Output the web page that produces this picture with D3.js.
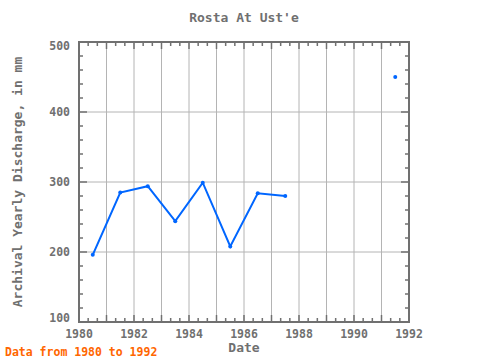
<!DOCTYPE html>
<html><head><meta charset="utf-8">
<script src="https://cdn.jsdelivr.net/npm/d3@7"></script>
<style>body{margin:0;background:#fff}</style>
</head><body>
<script>
const years = [1980.5, 1981.5, 1982.5, 1983.5, 1984.5, 1985.5, 1986.5, 1987.5, 1991.5];
const values = [196, 285, 294, 244, 299, 208, 284, 280, 450];
const xTickLabels = [1980, 1982, 1984, 1986, 1988, 1990, 1992];
const yTickLabels = [100, 200, 300, 400, 500];

const W = 480, H = 360;
const m = {l: 79, r: 71, t: 42, b: 38};
const svg = d3.select("body").append("svg").attr("width", W).attr("height", H);
const x = d3.scaleLinear().domain([1980, 1992]).range([m.l, W - m.r]);
const y = d3.scaleLinear().domain([100, 500]).range([H - m.b, m.t]);
const font = "'DejaVu Sans Mono', monospace";
const grey = "#707070";

// grid
svg.append("g").selectAll("line").data(d3.range(1981, 1992)).join("line")
  .attr("x1", d => x(d)).attr("x2", d => x(d)).attr("y1", m.t).attr("y2", H - m.b)
  .attr("stroke", "#b4b4b4").attr("stroke-width", 1);
svg.append("g").selectAll("line").data([200, 300, 400]).join("line")
  .attr("y1", d => y(d)).attr("y2", d => y(d)).attr("x1", m.l).attr("x2", W - m.r)
  .attr("stroke", "#b4b4b4").attr("stroke-width", 1);

// ticks
const xMinor = d3.range(1980, 1992.001, 1/3);
const tk = svg.append("g").attr("stroke", grey).attr("stroke-width", 1.5);
xMinor.forEach(v => {
  const major = Math.abs(v - Math.round(v)) < 1e-6;
  const len = major ? 7 : 4;
  tk.append("line").attr("x1", x(v)).attr("x2", x(v)).attr("y1", y(100)).attr("y2", y(100) - len);
  tk.append("line").attr("x1", x(v)).attr("x2", x(v)).attr("y1", y(500)).attr("y2", y(500) + len);
});
d3.range(100, 500.001, 20).forEach(v => {
  const major = v % 100 === 0;
  const len = major ? 8 : 4;
  tk.append("line").attr("y1", y(v)).attr("y2", y(v)).attr("x1", x(1980)).attr("x2", x(1980) + len);
  tk.append("line").attr("y1", y(v)).attr("y2", y(v)).attr("x1", x(1992)).attr("x2", x(1992) - len);
});

// frame
svg.append("rect").attr("x", m.l).attr("y", m.t).attr("width", W - m.l - m.r).attr("height", H - m.t - m.b)
  .attr("fill", "none").attr("stroke", grey).attr("stroke-width", 2);

// tick labels
svg.append("g").selectAll("text").data(xTickLabels).join("text")
  .attr("x", d => x(d)).attr("y", H - m.b + 16).attr("text-anchor", "middle")
  .attr("font-family", font).attr("font-size", 11.5).attr("font-weight", "bold").attr("fill", grey)
  .text(d => d);
svg.append("g").selectAll("text").data(yTickLabels).join("text")
  .attr("x", m.l - 9).attr("y", d => y(d) + 4 + (d === 500 ? 4 : d === 100 ? -4 : 0)).attr("text-anchor", "end")
  .attr("font-family", font).attr("font-size", 11.5).attr("font-weight", "bold").attr("fill", grey)
  .text(d => d);

// data
const pts = years.map((d, i) => ({x: d, y: values[i]}));
const line = d3.line().x(d => x(d.x)).y(d => y(d.y));
svg.append("path").datum(pts.slice(0, 8)).attr("d", line).attr("fill", "none")
  .attr("stroke", "#0066ff").attr("stroke-width", 2);
svg.append("g").selectAll("circle").data(pts).join("circle")
  .attr("cx", d => x(d.x)).attr("cy", d => y(d.y)).attr("r", 2).attr("fill", "#0066ff");

// titles
svg.append("text").attr("x", (m.l + W - m.r) / 2).attr("y", 22).attr("text-anchor", "middle")
  .attr("font-family", font).attr("font-size", 13).attr("font-weight", "bold").attr("fill", grey).text("Rosta At Ust'e");
svg.append("text").attr("x", (m.l + W - m.r) / 2).attr("y", 352).attr("text-anchor", "middle")
  .attr("font-family", font).attr("font-size", 13).attr("font-weight", "bold").attr("fill", grey).text("Date");
svg.append("text").attr("transform", `translate(22,${(m.t + H - m.b) / 2}) rotate(-90)`).attr("text-anchor", "middle")
  .attr("font-family", font).attr("font-size", 13).attr("font-weight", "bold").attr("fill", grey).text("Archival Yearly Discharge, in mm");
svg.append("text").attr("x", 5).attr("y", 356)
  .attr("font-family", font).attr("font-size", 11.5).attr("font-weight", "bold").attr("fill", "#ff6600").text("Data from 1980 to 1992");
</script>
</body></html>
